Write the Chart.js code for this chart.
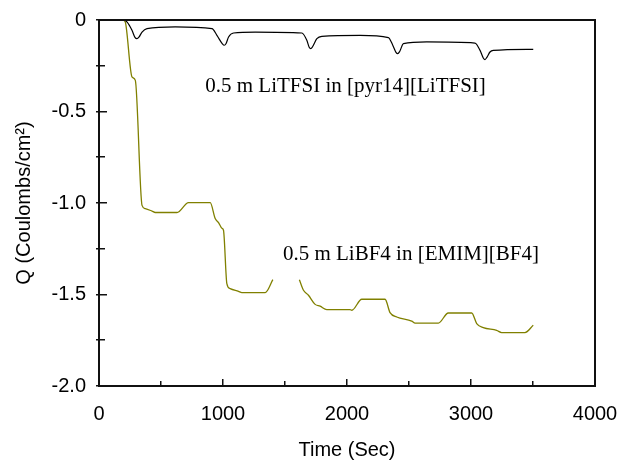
<!DOCTYPE html>
<html>
<head>
<meta charset="utf-8">
<script src="https://cdn.jsdelivr.net/npm/chart.js@4"></script>
<style>
  html, body { margin: 0; padding: 0; background: #fff; }
  #wrap { width: 620px; height: 464px; }
</style>
</head>
<body>
<div id="wrap"><canvas id="chart"></canvas></div>
<script>
// data
let timeTfsi = [0, 200, 225, 266, 290, 306, 322, 347, 387, 615, 911, 951, 995, 1010, 1025, 1045, 1085, 1260, 1636, 1676, 1695, 1708, 1722, 1757, 1797, 2106, 2334, 2369, 2395, 2409, 2425, 2455, 2643, 3032, 3073, 3100, 3113, 3128, 3153, 3180, 3502];
let qTfsi = [0, 0, -0.01, -0.056, -0.095, -0.102, -0.094, -0.066, -0.047, -0.038, -0.047, -0.084, -0.130, -0.138, -0.128, -0.093, -0.071, -0.066, -0.071, -0.111, -0.149, -0.156, -0.146, -0.102, -0.089, -0.084, -0.096, -0.138, -0.177, -0.184, -0.172, -0.129, -0.120, -0.126, -0.166, -0.209, -0.216, -0.204, -0.175, -0.166, -0.160];

let timeBf4 = [0, 195, 212, 266, 293, 347, 373, 427, 454, 629, 722, 897, 937, 964, 991, 1004, 1031, 1058, 1125, 1152, 1340, 1402, 1500, 1616, 1649, 1689, 1743, 1783, 1837, 2025, 2039, 2119, 2307, 2347, 2401, 2522, 2549, 2737, 2817, 3006, 3046, 3099, 3207, 3247, 3435, 3502];
let qBf4 = [0, 0, -0.011, -0.311, -0.330, -1.013, -1.031, -1.044, -1.052, -1.052, -0.998, -0.998, -1.085, -1.107, -1.138, -1.149, -1.440, -1.468, -1.483, -1.490, -1.490, -1.419, null, -1.419, -1.477, -1.504, -1.554, -1.564, -1.583, -1.583, -1.586, -1.526, -1.526, -1.599, -1.623, -1.645, -1.656, -1.656, -1.601, -1.601, -1.659, -1.681, -1.696, -1.708, -1.708, -1.668];

let xTicks = [0, 1000, 2000, 3000, 4000];
let yTicks = [0, -0.5, -1.0, -1.5, -2.0];

let labelTfsi = "0.5 m LiTFSI in [pyr14][LiTFSI]";
let labelBf4 = "0.5 m LiBF4 in [EMIM][BF4]";

function toPoints(xs, ys) {
    let pts = [];
    for (let i = 0; i < xs.length; i++) {
        pts.push({ x: xs[i], y: ys[i] });
    }
    return pts;
}

// frame, inward ticks and the two curve labels
let framePlugin = {
    id: "frame",
    afterDraw(chart) {
        let g = chart.ctx;
        let a = chart.chartArea;
        let sx = chart.scales.x;
        let sy = chart.scales.y;
        let l = Math.round(a.left);
        let r = Math.round(a.right);
        let t = Math.round(a.top);
        let b = Math.round(a.bottom);
        g.save();
        g.fillStyle = "#111";
        g.fillRect(l - 1, t - 1, r - l + 2, 2);
        g.fillRect(r - 1, t - 1, 2, b - t + 2);
        g.fillRect(l - 1, b - 1, r - l + 2, 2);
        g.fillRect(l - 1, t - 1, 2, b - t + 2);
        for (let v = 0; v <= 4000; v += 500) {
            let px = Math.round(sx.getPixelForValue(v));
            let len = v % 1000 === 0 ? 7 : 5;
            g.fillRect(px - 1, b - len, 1.5, len);
        }
        for (let v = 0; v >= -2; v -= 0.25) {
            let py = Math.round(sy.getPixelForValue(v));
            let len = Math.abs(v * 2 - Math.round(v * 2)) < 1e-6 ? 8 : 6;
            g.fillRect(l - 3, py - 1, len + 3, 1.5);
        }

        g.fillStyle = "#000";
        g.font = "21px 'Liberation Serif', 'Times New Roman', serif";
        g.textBaseline = "alphabetic";
        g.textAlign = "left";
        g.fillText(labelTfsi, sx.getPixelForValue(857), sy.getPixelForValue(-0.393));
        g.fillText(labelBf4, sx.getPixelForValue(1483), sy.getPixelForValue(-1.31));
        g.restore();
    }
};

let ctx = document.getElementById("chart").getContext("2d");
let chart = new Chart(ctx, {
    type: "line",
    data: {
        datasets: [
            {
                label: labelTfsi,
                data: toPoints(timeTfsi, qTfsi),
                borderColor: "#000",
                borderWidth: 1.2,
                pointRadius: 0,
                clip: 3,
                cubicInterpolationMode: "monotone"
            },
            {
                label: labelBf4,
                data: toPoints(timeBf4, qBf4),
                borderColor: "#808000",
                borderWidth: 1.3,
                pointRadius: 0,
                clip: 3,
                spanGaps: false,
                cubicInterpolationMode: "monotone"
            }
        ]
    },
    options: {
        responsive: true,
        maintainAspectRatio: false,
        animation: false,
        layout: { padding: { top: 20, right: 25, left: 0, bottom: 0 } },
        plugins: {
            legend: { display: false },
            tooltip: { enabled: false }
        },
        scales: {
            x: {
                type: "linear",
                min: 0,
                max: 4000,
                afterBuildTicks(scale) {
                    scale.ticks = xTicks.map(v => ({ value: v }));
                },
                afterFit(scale) {
                    scale.height = 78;
                    scale.paddingLeft = 0;
                    scale.paddingRight = 0;
                },
                grid: { display: false, drawTicks: false },
                border: { display: false },
                ticks: {
                    color: "#000",
                    padding: 16,
                    font: { family: "'Liberation Sans', Arial, sans-serif", size: 20 },
                    callback: v => String(v)
                },
                title: {
                    display: true,
                    text: "Time (Sec)",
                    color: "#000",
                    font: { family: "'Liberation Sans', Arial, sans-serif", size: 20 },
                    padding: { top: 0, bottom: 2 }
                }
            },
            y: {
                type: "linear",
                min: -2,
                max: 0,
                afterBuildTicks(scale) {
                    scale.ticks = yTicks.map(v => ({ value: v }));
                },
                afterFit(scale) {
                    scale.width = 99;
                    scale.paddingTop = 0;
                    scale.paddingBottom = 0;
                },
                grid: { display: false, drawTicks: false },
                border: { display: false },
                ticks: {
                    color: "#000",
                    padding: 13,
                    font: { family: "'Liberation Sans', Arial, sans-serif", size: 20 },
                    callback: v => (v === 0 ? "0" : v.toFixed(1))
                },
                title: {
                    display: true,
                    text: "Q (Coulombs/cm²)",
                    color: "#000",
                    font: { family: "'Liberation Sans', Arial, sans-serif", size: 20 },
                    padding: { top: 12, bottom: 0 }
                }
            }
        }
    },
    plugins: [framePlugin]
});
</script>
</body>
</html>
